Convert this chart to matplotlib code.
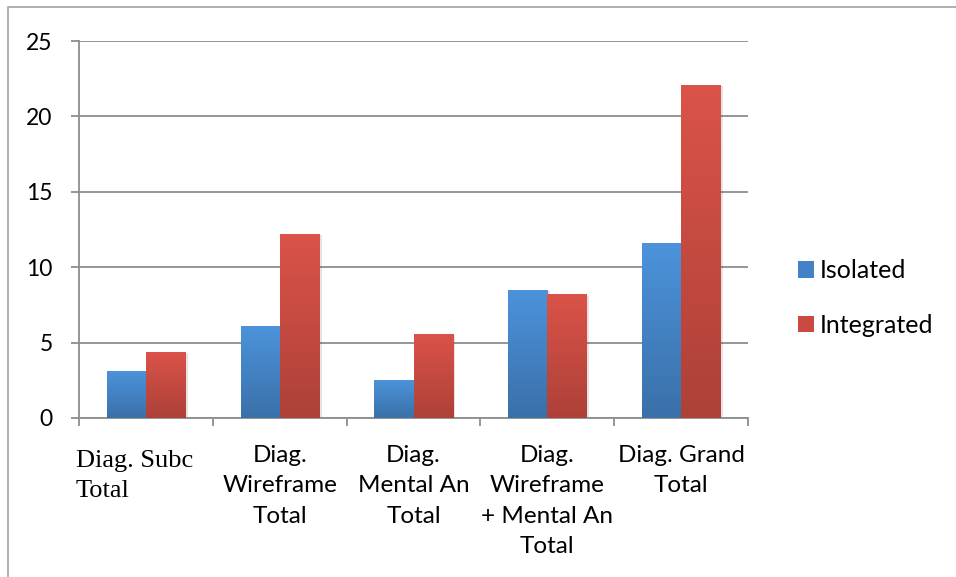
import numpy as np
import matplotlib
matplotlib.use("Agg")
import matplotlib.pyplot as plt
from matplotlib.colors import LinearSegmentedColormap
from matplotlib.lines import Line2D
from matplotlib import transforms
import matplotlib.patheffects as pe

# ---- data ----
categories = [
    "Diag. Subc\nTotal",
    "Diag.\nWireframe\nTotal",
    "Diag.\nMental An\nTotal",
    "Diag.\nWireframe\n+ Mental An\nTotal",
    "Diag. Grand\nTotal",
]
series_names = ["Isolated", "Integrated"]
isolated = [3.1, 6.1, 2.5, 8.5, 11.6]
integrated = [4.4, 12.2, 5.6, 8.2, 22.1]
y_ticks = [0, 5, 10, 15, 20, 25]

# ---- style ----
SANS = ["Lato", "DejaVu Sans"]
SERIF = ["Liberation Serif", "DejaVu Serif"]
GRID = "#8E8E8E"
blue_top, blue_bot = "#4C93DB", "#3A70A9"
red_top, red_bot = "#DB5349", "#AD4138"

fig = plt.figure(figsize=(9.56, 5.77), dpi=100)
W, H = 956, 577
ax = fig.add_axes([79 / W, 1 - 418 / H, (748 - 79) / W, (418 - 41) / H])

x = np.arange(len(categories))
bw = 0.292

ax.set_xlim(-0.5, len(categories) - 0.5)
ax.set_ylim(0, 25)
ax.set_yticks(y_ticks)
ax.set_yticklabels([str(v) for v in y_ticks], family=SANS, fontsize=16.5)
ax.yaxis.grid(True, color=GRID, linewidth=1.3)
ax.set_axisbelow(True)
for s in ("top", "right"):
    ax.spines[s].set_visible(False)
for s in ("left", "bottom"):
    ax.spines[s].set_color(GRID)
    ax.spines[s].set_linewidth(1.3)
ax.tick_params(axis="y", length=6, width=1.3, color=GRID, pad=13, labelcolor="black")

# x ticks at category boundaries, labels drawn as text
ax.set_xticks(np.arange(-0.5, len(categories)), minor=True)
ax.set_xticks([])
ax.tick_params(axis="x", which="minor", length=6, width=1.3, color=GRID)


def gradient_bars(xpos, vals, top, bot):
    cmap = LinearSegmentedColormap.from_list("g", [bot, top])
    grad = np.linspace(0, 1, 256).reshape(-1, 1)
    bars = ax.bar(xpos, vals, width=bw, color=top, linewidth=0, zorder=2,
                  path_effects=[pe.SimplePatchShadow(offset=(2, -1), alpha=0.12),
                                pe.Normal()])
    for b in bars:
        x0, y0 = b.get_x(), b.get_y()
        im = ax.imshow(grad, cmap=cmap, aspect="auto", origin="lower",
                       extent=[x0, x0 + b.get_width(), y0, y0 + b.get_height()],
                       zorder=3, interpolation="bilinear")
        im.set_clip_path(b)
    return bars


b1 = gradient_bars(x - bw / 2, isolated, blue_top, blue_bot)
b2 = gradient_bars(x + bw / 2, integrated, red_top, red_bot)
ax.set_xlim(-0.5, len(categories) - 0.5)
ax.set_ylim(0, 25)

# category labels
trans = transforms.blended_transform_factory(ax.transData, ax.transAxes)
off = transforms.ScaledTranslation(0, -27 / 100, fig.dpi_scale_trans)
for i, lab in enumerate(categories):
    if i == 0:
        ax.text(-0.5, 0, lab,
                transform=trans + transforms.ScaledTranslation(-3 / 100, -32 / 100, fig.dpi_scale_trans),
                ha="left", va="top", family=SERIF, fontsize=19,
                linespacing=1.45, multialignment="left")
    else:
        ax.text(i, 0, lab, transform=trans + off, ha="center", va="top",
                family=SANS, fontsize=17.5, linespacing=1.55,
                multialignment="center")

# legend
handles = [plt.Rectangle((0, 0), 1, 1, facecolor=c, edgecolor="none")
           for c in ("#4382C6", "#C84A40")]
fig.legend(handles, series_names, loc="center left",
           bbox_to_anchor=(798 / W, 1 - 298 / H), frameon=False,
           prop={"family": SANS, "size": 18}, borderpad=0, borderaxespad=0,
           handlelength=0.62, handleheight=0.62, handletextpad=0.25,
           labelspacing=1.25)

# outer chart frame
fig.add_artist(Line2D([8 / W, 8 / W, 1], [0, 1 - 7 / H, 1 - 7 / H],
                      transform=fig.transFigure, color="#A8A8A8", linewidth=1.3))

fig.savefig("out.png", dpi=100)
